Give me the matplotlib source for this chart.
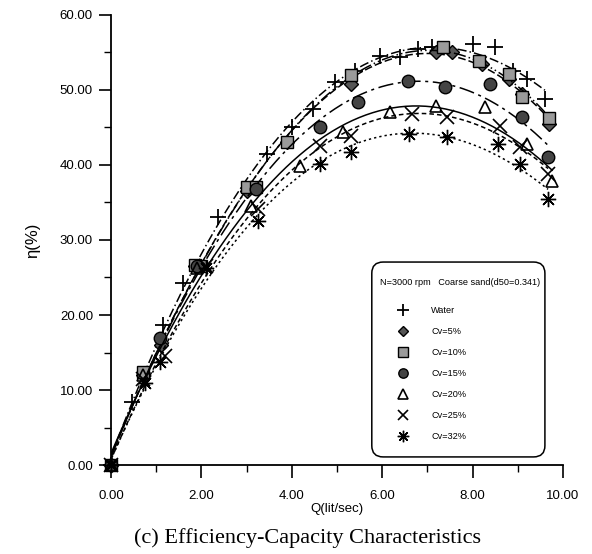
import matplotlib.pyplot as plt
import numpy as np
from matplotlib.patches import FancyBboxPatch

# data
q_water = [0, 0.46, 1.15, 1.6, 2.37, 3.45, 4.0, 4.47, 4.96, 5.4, 5.95, 6.4, 6.8, 7.1, 8.0, 8.5, 8.9, 9.2, 9.6]
eta_water = [0, 8.4, 18.7, 24.3, 33.0, 41.4, 45.0, 47.5, 51.1, 52.5, 54.5, 54.4, 55.5, 55.7, 56.1, 55.7, 52.5, 51.5, 48.8]

q_cv5 = [0, 0.7, 1.1, 1.85, 3.0, 3.9, 5.3, 7.2, 7.55, 8.2, 8.8, 9.1, 9.7]
eta_cv5 = [0, 12.0, 16.0, 26.5, 36.5, 43.0, 50.8, 55.0, 55.0, 53.5, 51.5, 49.5, 45.5]

q_cv10 = [0, 0.7, 1.85, 2.0, 3.0, 3.2, 3.9, 5.3, 7.35, 8.15, 8.8, 9.1, 9.7]
eta_cv10 = [0, 12.4, 26.7, 26.5, 37.0, 37.0, 43.0, 52.0, 55.7, 53.9, 52.1, 49.1, 46.3]

q_cv15 = [0, 1.08, 1.9, 3.2, 4.62, 5.46, 6.57, 7.39, 8.38, 9.1, 9.67]
eta_cv15 = [0, 17.0, 26.5, 36.8, 45.0, 48.4, 51.2, 50.4, 50.8, 46.4, 41.0]

q_cv20 = [0, 0.7, 1.9, 3.1, 4.18, 5.13, 6.17, 7.2, 8.27, 9.2, 9.76]
eta_cv20 = [0, 12.0, 26.3, 34.5, 39.8, 44.4, 47.1, 47.9, 47.7, 42.8, 37.8]

q_cv25 = [0, 0.7, 1.2, 2.1, 3.25, 4.62, 5.3, 6.66, 7.43, 8.6, 9.05, 9.67]
eta_cv25 = [0, 11.5, 14.5, 26.5, 34.1, 42.5, 43.9, 46.8, 46.4, 45.2, 42.4, 38.8]

q_cv32 = [0, 0.75, 1.08, 2.1, 3.25, 4.62, 5.3, 6.6, 7.43, 8.56, 9.05, 9.67]
eta_cv32 = [0, 11.0, 13.8, 26.3, 32.5, 40.1, 41.7, 44.1, 43.7, 42.8, 40.1, 35.4]

labels = ["Water", "Cv=5%", "Cv=10%", "Cv=15%", "Cv=20%", "Cv=25%", "Cv=32%"]

series = [
    (q_water, eta_water, dict(marker="+", ms=11, mew=1.3, mfc="none"), (0, (6, 2, 1, 2))),
    (q_cv5, eta_cv5, dict(marker="D", ms=7, mew=1.0, mfc="#555555"), (0, (5, 2))),
    (q_cv10, eta_cv10, dict(marker="s", ms=9, mew=1.0, mfc="#9a9a9a"), (0, (8, 2, 1, 2, 1, 2))),
    (q_cv15, eta_cv15, dict(marker="o", ms=9, mew=1.0, mfc="#444444"), (0, (10, 3, 2, 3))),
    (q_cv20, eta_cv20, dict(marker="^", ms=9, mew=1.2, mfc="none"), "-"),
    (q_cv25, eta_cv25, dict(marker="x", ms=10, mew=1.2, mfc="none"), (0, (3, 2))),
    (q_cv32, eta_cv32, dict(marker=(8, 2, 0), ms=11, mew=1.0, mfc="none"), (0, (1.5, 2))),
]

plt.rcParams["font.family"] = ["Liberation Sans", "DejaVu Sans"]

fig = plt.figure(figsize=(5.92, 5.54), dpi=100)
ax = fig.add_axes([0.1875, 0.1606, 0.7635, 0.8124])

for (q, eta, mk, ls), lab in zip(series, labels):
    q = np.array(q)
    eta = np.array(eta)
    coef = np.polyfit(q, eta, 3)
    qq = np.linspace(0, q.max(), 200)
    ax.plot(qq, np.polyval(coef, qq), color="black", lw=1.1, linestyle=ls)
    ax.plot(q, eta, linestyle="none", color="black", mec="black", label=lab,
            clip_on=False, **mk)

ax.set_xlim(0, 10)
ax.set_ylim(0, 60)
ax.set_xticks(np.arange(0, 11, 2))
ax.set_xticks(np.arange(1, 10, 2), minor=True)
ax.set_yticks(np.arange(0, 61, 10))
ax.set_yticks(np.arange(5, 60, 10), minor=True)
ax.set_xticklabels(["%.2f" % v for v in np.arange(0, 11, 2)])
ax.set_yticklabels(["%.2f" % v for v in np.arange(0, 61, 10)])
ax.tick_params(axis="both", which="major", length=9, width=1.2, labelsize=9.5)
ax.tick_params(axis="both", which="minor", length=5, width=1.0)
ax.tick_params(axis="x", which="major", pad=9)
ax.tick_params(axis="y", which="major", pad=4)
for s in ["top", "right"]:
    ax.spines[s].set_visible(False)
for s in ["left", "bottom"]:
    ax.spines[s].set_linewidth(1.3)

ax.set_xlabel("Q(lit/sec)", fontsize=9.5, labelpad=1)
ax.set_ylabel("η(%)", fontsize=12, labelpad=14)

# legend box with rounded corners
box = FancyBboxPatch((0.577, 0.018), 0.383, 0.433, transform=ax.transAxes,
                     boxstyle="round,pad=0,rounding_size=0.025",
                     fc="white", ec="black", lw=1.1, zorder=5)
ax.add_patch(box)

leg = ax.legend(loc="upper left", bbox_to_anchor=(0.595, 0.416), ncol=1,
                title="N=3000 rpm   Coarse sand(d50=0.341)",
                title_fontsize=6.6, fontsize=6.6, labelspacing=1.3,
                handlelength=5.0, handletextpad=0.6, borderpad=0,
                markerscale=0.75, frameon=False, borderaxespad=0)
leg.set_zorder(6)
leg._legend_box.align = "left"
leg._legend_box.sep = 14

fig.text(0.519, 0.029, "(c) Efficiency-Capacity Characteristics",
         ha="center", va="center", fontsize=16, family="Liberation Serif")

fig.savefig("out.png", dpi=100)
